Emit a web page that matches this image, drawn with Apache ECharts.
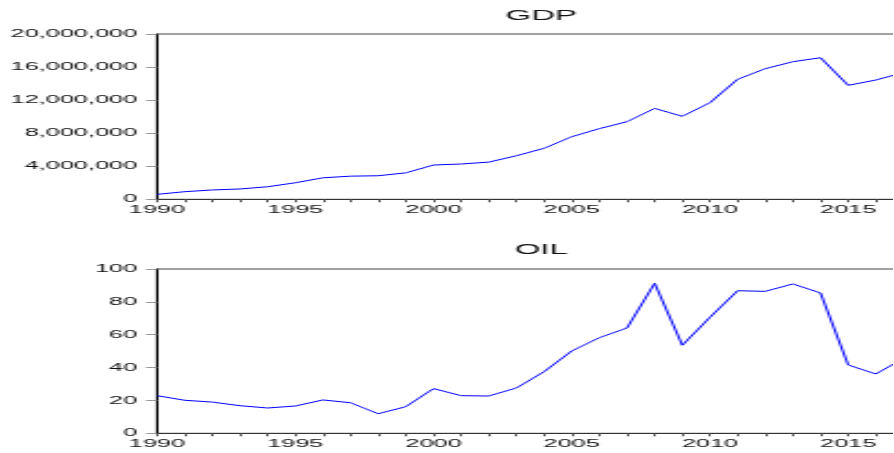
<!DOCTYPE html>
<html>
<head>
<meta charset="utf-8">
<script src="https://cdn.jsdelivr.net/npm/echarts@6/dist/echarts.min.js"></script>
<style>
  html, body { margin: 0; padding: 0; background: #fff; overflow: hidden; }
  /* the figure is laid out narrow and stretched wide, like the exported graph */
  #chart {
    width: 406.36px; height: 453px;
    transform: scaleX(2.2); transform-origin: 0 0;
  }
</style>
</head>
<body>
<div id="chart"></div>
<script>
// Annual series, 1990-2017
var years = ['1990','1991','1992','1993','1994','1995','1996','1997','1998','1999',
             '2000','2001','2002','2003','2004','2005','2006','2007','2008','2009',
             '2010','2011','2012','2013','2014','2015','2016','2017'];

var gdp = [600000, 920000, 1130000, 1250000, 1520000, 2000000, 2600000, 2800000,
           2850000, 3200000, 4150000, 4270000, 4500000, 5270000, 6170000, 7570000,
           8550000, 9390000, 11000000, 10040000, 11690000, 14520000, 15800000,
           16650000, 17130000, 13790000, 14430000, 15330000];

var oil = [22.9, 20.1, 19.0, 16.8, 15.4, 16.6, 20.3, 18.6, 11.9, 16.2,
           27.2, 22.9, 22.7, 27.6, 37.5, 50.1, 58.2, 64.1, 91.3, 53.6,
           70.6, 86.8, 86.4, 90.9, 85.4, 41.6, 36.1, 45.5];

var gdpTicks = { min: 0, max: 20000000, interval: 4000000 };
var oilTicks = { min: 0, max: 100, interval: 20 };

var FONT = '"Liberation Sans", Arial, sans-serif';

function withCommas(v) {
  return String(v).replace(/\B(?=(\d{3})+(?!\d))/g, ',');
}

function xAxisFor(gridIndex) {
  return {
    type: 'category', gridIndex: gridIndex, data: years, boundaryGap: false,
    axisLine: { show: true, lineStyle: { color: '#333', width: 1 } },
    axisTick: { show: true, interval: 0, length: 3, lineStyle: { color: '#555' } },
    axisLabel: { interval: 4, margin: 5, fontSize: 11.5, color: '#111', fontFamily: FONT },
    splitLine: { show: false }
  };
}

function yAxisFor(gridIndex, ticks) {
  return {
    type: 'value', gridIndex: gridIndex,
    min: ticks.min, max: ticks.max, interval: ticks.interval,
    axisLine: { show: true, lineStyle: { color: '#000', width: 1 } },
    axisTick: { show: true, length: 5, lineStyle: { color: '#999' } },
    axisLabel: { margin: 9, fontSize: 11.5, color: '#111', fontFamily: FONT, formatter: withCommas },
    splitLine: { show: false }
  };
}

// plot area runs past the right edge of the figure; the 2017 end is cut off
var PLOT_LEFT = 71.36, PLOT_WIDTH = 339.3;

function gridAt(top, height) {
  return {
    left: PLOT_LEFT, width: PLOT_WIDTH, top: top, height: height,
    outerBoundsMode: 'none', containLabel: false,
    show: true, borderColor: '#444', borderWidth: 1, backgroundColor: 'transparent'
  };
}

var chart = echarts.init(document.getElementById('chart'), null, { renderer: 'canvas' });
chart.setOption({
  animation: false,
  backgroundColor: '#fff',
  title: [
    { text: 'GDP', left: 241, top: 3, textAlign: 'center',
      textStyle: { fontSize: 15, fontWeight: 'normal', color: '#111', fontFamily: FONT } },
    { text: 'OIL', left: 241, top: 237, textAlign: 'center',
      textStyle: { fontSize: 15, fontWeight: 'normal', color: '#111', fontFamily: FONT } }
  ],
  grid: [gridAt(34, 165.3), gridAt(269, 164.3)],
  xAxis: [xAxisFor(0), xAxisFor(1)],
  yAxis: [yAxisFor(0, gdpTicks), yAxisFor(1, oilTicks)],
  series: [
    { name: 'GDP', type: 'line', xAxisIndex: 0, yAxisIndex: 0, data: gdp,
      showSymbol: false, lineStyle: { color: '#0000ff', width: 1 } },
    { name: 'OIL', type: 'line', xAxisIndex: 1, yAxisIndex: 1, data: oil,
      showSymbol: false, lineStyle: { color: '#0000ff', width: 1 } }
  ]
});
</script>
</body>
</html>
